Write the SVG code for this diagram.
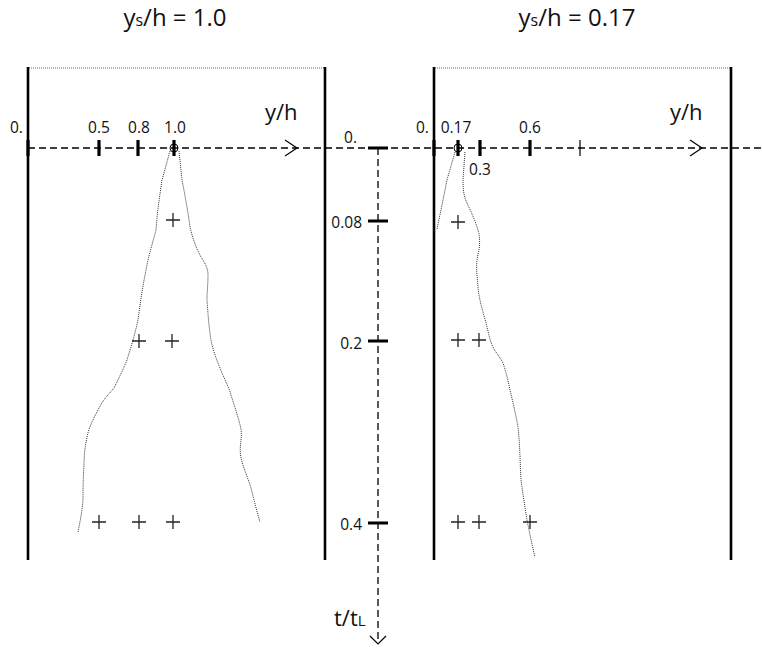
<svg xmlns="http://www.w3.org/2000/svg" width="762" height="649" viewBox="0 0 762 649">
<style>
text{font-family:"Open Sans","Liberation Sans",sans-serif;fill:#111}
.title{font-size:24px}
.ax{font-size:22px}
.tl{font-size:15.5px}
.wall{stroke:#000;stroke-width:2.6;fill:none}
.top{stroke:#666;stroke-width:1;stroke-dasharray:1 1;fill:none}
.axis{stroke:#000;stroke-width:1.3;stroke-dasharray:7 4;fill:none}
.tick{stroke:#000;stroke-width:3.2;fill:none}
.thin{stroke:#000;stroke-width:1.2;fill:none}
.plume{stroke:#333;stroke-width:1;stroke-dasharray:1 1;fill:none}
.plus{stroke:#222;stroke-width:1.3;fill:none}
</style>
<defs>
<path id="pl" d="M-7 0H7M0 -7V7" class="plus"/>
</defs>

<g id="title-left"><text class="title" x="175" y="26" text-anchor="middle">y<tspan font-size="16">s</tspan>/h = 1.0</text></g>
<g id="title-right"><text class="title" x="577" y="26" text-anchor="middle">y<tspan font-size="16">s</tspan>/h = 0.17</text></g>

<g id="panel-left">
<path class="top" d="M29 68H324"/>
<path class="wall" d="M28 67V560M325 67V560"/>
<path class="tick" d="M28 140V156M99 140V156M138 140V156M174 140V156"/>
<circle cx="174" cy="148" r="4" fill="none" stroke="#000" stroke-width="1"/>
<text class="tl" x="10" y="133">0.</text>
<text class="tl" x="99" y="133" text-anchor="middle">0.5</text>
<text class="tl" x="139" y="133" text-anchor="middle">0.8</text>
<text class="tl" x="175" y="133" text-anchor="middle">1.0</text>
<text class="ax" x="265" y="120">y/h</text>
<path class="plume" d="M170 151 L162 180 C159 200 157 215 156 230 C152 245 148 258 146 270 C142 290 140 305 138 320 C134 338 130 350 127 360 C122 372 118 380 114 388 C108 395 103 400 99 408 C94 418 90 425 88 433 C85 445 84 455 84 465 C83 480 83 490 83 500 C82 512 80 522 78 532"/>
<path class="plume" d="M179 151 L182 180 C185 195 188 212 190 227 C193 240 197 250 201 257 C205 263 208 268 208 275 C208 285 207 292 207 300 C208 315 209 328 211 340 C214 355 219 365 222 373 C226 382 229 388 231 395 C234 405 237 413 239 421 C241 428 242 432 241 440 C240 448 240 452 241 458 C244 470 248 478 251 488 C254 500 257 512 260 522"/>
<use href="#pl" x="173" y="220"/>
<use href="#pl" x="139" y="341"/>
<use href="#pl" x="172" y="341"/>
<use href="#pl" x="99" y="522"/>
<use href="#pl" x="139" y="522"/>
<use href="#pl" x="173" y="522"/>
</g>

<g id="panel-right">
<path class="top" d="M435 68H730"/>
<path class="wall" d="M434 67V560M731 67V560"/>
<path class="tick" d="M434 140V156M458 140V156M480 140V156M530 140V156"/>
<path class="thin" d="M580 140V156"/>
<circle cx="458" cy="148" r="4" fill="none" stroke="#000" stroke-width="1"/>
<text class="tl" x="416" y="133">0.</text>
<text class="tl" x="456" y="133" text-anchor="middle">0.17</text>
<text class="tl" x="480" y="175" text-anchor="middle">0.3</text>
<text class="tl" x="530" y="133" text-anchor="middle">0.6</text>
<text class="ax" x="670" y="120">y/h</text>
<path class="plume" d="M455 152 L447 180 C444 195 441 210 437 229"/>
<path class="plume" d="M465 152 L463 180 C463 190 464 197 467 203 C471 212 475 220 477 227 C480 235 480 242 479 250 C477 258 476 265 477 275 C478 285 478 292 480 300 C482 310 485 318 487 327 C489 335 490 341 493 347 C496 353 500 357 503 363 C506 372 508 380 510 390 C513 403 516 415 518 427 C520 445 520 462 521 480 C523 495 525 508 527 520 C530 535 532 545 535 557"/>
<use href="#pl" x="458" y="222"/>
<use href="#pl" x="458" y="340"/>
<use href="#pl" x="479" y="340"/>
<use href="#pl" x="458" y="522"/>
<use href="#pl" x="479" y="522"/>
<use href="#pl" x="530" y="522"/>
</g>

<g id="time-axis">
<path class="tick" d="M368 148H388M368 221H388M368 341H388M368 523H388"/>
<text class="tl" x="357" y="143" text-anchor="end">0.</text>
<text class="tl" x="362" y="228" text-anchor="end">0.08</text>
<text class="tl" x="362" y="349" text-anchor="end">0.2</text>
<text class="tl" x="362" y="530" text-anchor="end">0.4</text>
<text class="ax" x="334" y="626">t/t<tspan font-size="15">L</tspan></text>
</g>

<g id="connectors">
<path class="axis" d="M28 148H762"/>
<path class="thin" d="M285 140L297 148L285 156"/>
<path class="thin" d="M690 140L702 148L690 156"/>
<path class="axis" d="M378 148V644"/>
<path class="thin" d="M370 636L378 644L386 636"/>
</g>
</svg>
